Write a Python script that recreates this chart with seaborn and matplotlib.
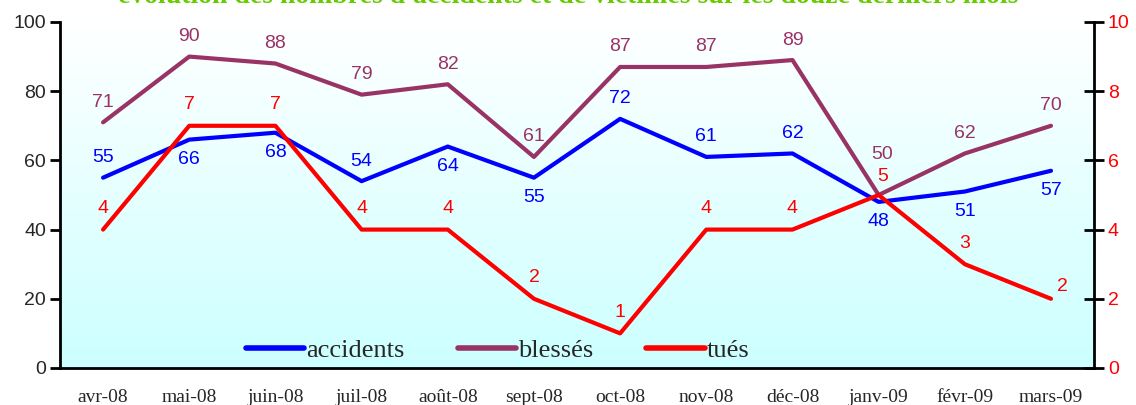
import matplotlib
matplotlib.use("Agg")
import matplotlib.pyplot as plt
import numpy as np
import seaborn as sns
from matplotlib.colors import LinearSegmentedColormap

mois = ["avr-08", "mai-08", "juin-08", "juil-08", "août-08", "sept-08",
        "oct-08", "nov-08", "déc-08", "janv-09", "févr-09", "mars-09"]
accidents = [55, 66, 68, 54, 64, 55, 72, 61, 62, 48, 51, 57]
blesses = [71, 90, 88, 79, 82, 61, 87, 87, 89, 50, 62, 70]
tues = [4, 7, 7, 4, 4, 2, 1, 4, 4, 5, 3, 2]

# label placement: +1 above, -1 below
acc_pos = [1, -1, -1, 1, -1, -1, 1, 1, 1, -1, -1, -1]

BLUE, PLUM, RED = "#0000FF", "#993366", "#FF0000"

sns.set_style("white")
plt.rcParams["font.family"] = ["Liberation Sans", "DejaVu Sans"]

fig = plt.figure(figsize=(11.36, 4.05), dpi=100)
ax = fig.add_axes([0.0528, 0.0914, 0.9103, 0.8543])
ax2 = ax.twinx()

x = np.arange(len(mois))

# fond en dégradé
grad = LinearSegmentedColormap.from_list("g", ["#CCFFFF", "#FFFFFF"])
ax.imshow(np.linspace(0, 1, 256).reshape(-1, 1), cmap=grad, aspect="auto",
          extent=[-0.5, 11.5, 0, 100], origin="lower", zorder=0)

sns.lineplot(x=x, y=accidents, color=BLUE, lw=3, ax=ax, label="accidents", zorder=3)
sns.lineplot(x=x, y=blesses, color=PLUM, lw=3, ax=ax, label="blessés", zorder=3)
sns.lineplot(x=x, y=tues, color=RED, lw=3, ax=ax2, label="tués", zorder=3)

for xi, v, p in zip(x, accidents, acc_pos):
    ax.annotate(str(v), (xi, v), xytext=(0, 20 * p), textcoords="offset pixels",
                ha="center", va="center", color=BLUE, fontsize=14)
for i, (xi, v) in enumerate(zip(x, blesses)):
    off = (3, 40) if i == 9 else (0, 20)
    ax.annotate(str(v), (xi, v), xytext=off, textcoords="offset pixels",
                ha="center", va="center", color=PLUM, fontsize=14)
for i, (xi, v) in enumerate(zip(x, tues)):
    off = (11, 12) if i == 11 else ((4, 18) if i == 9 else (0, 21))
    ax2.annotate(str(v), (xi, v), xytext=off, textcoords="offset pixels",
                 ha="center", va="center", color=RED, fontsize=14)

ax.set_xlim(-0.5, 11.5)
ax.set_ylim(0, 100)
ax2.set_ylim(0, 10)
ax.set_yticks(range(0, 101, 20))
ax2.set_yticks(range(0, 11, 2))
ax.set_xticks(np.arange(-0.5, 12, 1))
ax.set_xticklabels([])
ax.set_xticks(x, minor=True)
ax.set_xticklabels(mois, minor=True, family=["Liberation Serif"], fontsize=14)
ax.tick_params(axis="x", which="minor", length=0, pad=15)
ax.tick_params(axis="x", which="major", direction="out", length=7, width=2, color="black")
ax.tick_params(axis="y", direction="out", length=7, width=2, color="black",
               labelsize=14, pad=3, left=True)
ax2.tick_params(axis="y", direction="inout", length=14, width=2, color="black",
                labelsize=14, labelcolor=RED, right=True, pad=3)

for a in (ax, ax2):
    for s in a.spines.values():
        s.set_visible(False)
    a.set_xlabel("")
    a.set_ylabel("")
ax.spines["left"].set_visible(True)
ax.spines["bottom"].set_visible(True)
ax2.spines["right"].set_visible(True)
for s in (ax.spines["left"], ax.spines["bottom"], ax2.spines["right"]):
    s.set_linewidth(2)
    s.set_color("black")

h1, l1 = ax.get_legend_handles_labels()
h2, l2 = ax2.get_legend_handles_labels()
if ax2.get_legend():
    ax2.get_legend().remove()
ax.get_legend().remove()
leg = ax2.legend(h1 + h2, l1 + l2, loc="center", bbox_to_anchor=(0.4235, 0.05),
                 ncol=3, frameon=False, prop={"family": "Liberation Serif", "size": 19},
                 handlelength=2.2, handletextpad=0.1, columnspacing=2.0,
                 borderpad=0, borderaxespad=0)
for line in leg.get_lines():
    line.set_linewidth(4)

fig.text(0.5, 0.993, "évolution des nombres d'accidents et de victimes sur les douze derniers mois",
         ha="center", va="baseline", color="#66CC00", fontsize=20, fontweight="bold",
         family=["Liberation Serif"])

fig.savefig("out.png", dpi=100)
